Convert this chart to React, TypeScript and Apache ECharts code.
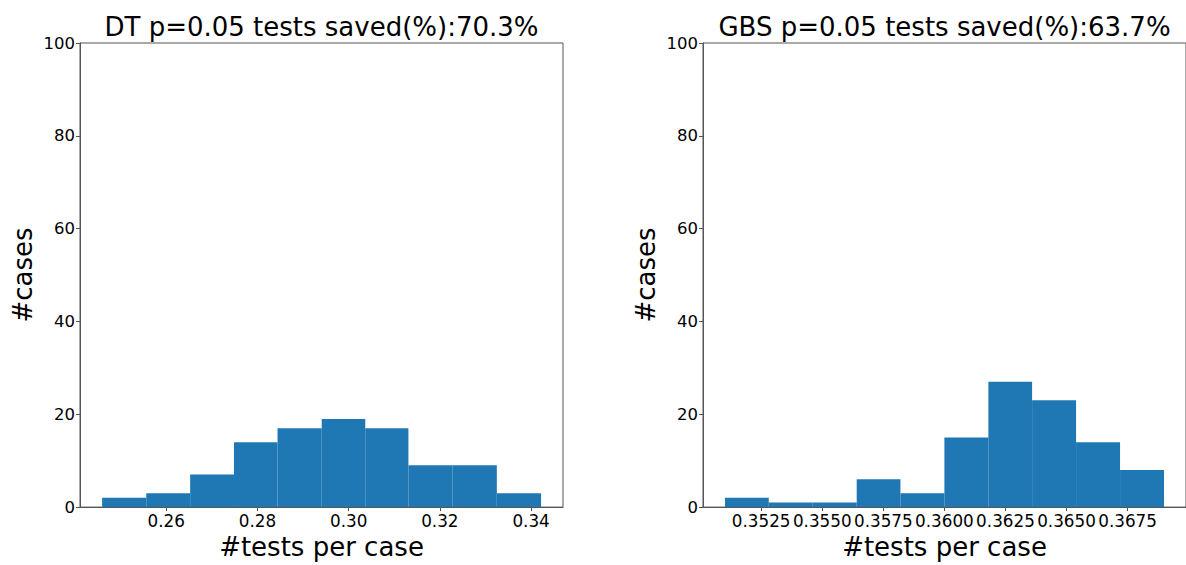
import React, { useEffect, useRef } from "react";
import * as echarts from "echarts";

// Left histogram (DT)
const dtTitle = "DT p=0.05 tests saved(%):70.3%";
const dtBinEdges = [0.24595, 0.25563, 0.26525, 0.27486, 0.28441, 0.2941, 0.30365, 0.31311, 0.32281, 0.33249, 0.34219];
const dtCounts = [2, 3, 7, 14, 17, 19, 17, 9, 9, 3];
const dtTicks = [0.26, 0.28, 0.3, 0.32, 0.34];
const dtRange = [0.2411, 0.347];

// Right histogram (GBS)
const gbsTitle = "GBS p=0.05 tests saved(%):63.7%";
const gbsBinEdges = [0.35102, 0.35281, 0.35461, 0.35641, 0.3582, 0.36, 0.3618, 0.36359, 0.36539, 0.36719, 0.36899];
const gbsCounts = [2, 1, 1, 6, 3, 15, 27, 23, 14, 8];
const gbsTicks = [0.3525, 0.355, 0.3575, 0.36, 0.3625, 0.365, 0.3675];
const gbsRange = [0.350118, 0.36989];

const yTicksMax = 100;
const yInterval = 20;

const FONT = "DejaVu Sans";
const BLUE = "#1f77b4";
const SPINE = "#555";

function toBins(edges: number[], counts: number[]) {
  return counts.map((c, i) => [edges[i], edges[i + 1], c]);
}

export default function App() {
  const ref = useRef<HTMLDivElement>(null);
  useEffect(() => {
    if (!ref.current) return;
    const chart = echarts.init(ref.current, undefined, { renderer: "svg" });
    const renderItem = (params: any, api: any) => {
      const p0 = api.coord([api.value(0), api.value(2)]);
      const p1 = api.coord([api.value(1), 0]);
      return {
        type: "rect",
        shape: { x: p0[0], y: p0[1], width: p1[0] - p0[0], height: p1[1] - p0[1] },
        style: { fill: BLUE },
      };
    };
    const xAxis = (range: number[], ticks: number[], digits: number, gi: number) => ({
      type: "value",
      gridIndex: gi,
      min: range[0],
      max: range[1],
      splitLine: { show: false },
      axisLine: { show: true, lineStyle: { color: SPINE, width: 1 } },
      axisTick: { show: true, length: 4, customValues: ticks, lineStyle: { color: SPINE } },
      axisLabel: {
        customValues: ticks,
        formatter: (v: number) => v.toFixed(digits),
        fontSize: 16.8,
        fontFamily: FONT,
        color: "#000",
        margin: 5,
        hideOverlap: false,
      },
      name: "#tests per case",
      nameLocation: "middle",
      nameGap: 21,
      nameTextStyle: { fontSize: 26, fontFamily: FONT, color: "#000" },
    });
    const yAxis = (gi: number) => ({
      type: "value",
      gridIndex: gi,
      min: 0,
      max: yTicksMax,
      interval: yInterval,
      splitLine: { show: false },
      axisLine: { show: true, lineStyle: { color: SPINE, width: 1 } },
      axisTick: { show: true, length: 4, lineStyle: { color: SPINE } },
      axisLabel: { fontSize: 16.5, fontFamily: FONT, color: "#000", margin: 5 },
      name: "#cases",
      nameLocation: "middle",
      nameRotate: 90,
      nameGap: 44,
      nameTextStyle: { fontSize: 26, fontFamily: FONT, color: "#000" },
    });
    chart.setOption({
      animation: false,
      backgroundColor: "#fff",
      textStyle: { fontFamily: FONT },
      title: [
        {
          text: dtTitle,
          left: 321.5,
          top: 14,
          textAlign: "center",
          padding: 0,
          textStyle: { fontSize: 26, fontWeight: "normal", fontFamily: FONT, color: "#000" },
        },
        {
          text: gbsTitle,
          left: 944.5,
          top: 14,
          textAlign: "center",
          padding: 0,
          textStyle: { fontSize: 26, fontWeight: "normal", fontFamily: FONT, color: "#000" },
        },
      ],
      grid: [
        { left: 80, right: 623, top: 43, bottom: 51, show: true, borderColor: SPINE, borderWidth: 1, backgroundColor: "transparent" },
        { left: 703, right: 0, top: 43, bottom: 51, show: true, borderColor: SPINE, borderWidth: 1, backgroundColor: "transparent" },
      ],
      xAxis: [xAxis(dtRange, dtTicks, 2, 0), xAxis(gbsRange, gbsTicks, 4, 1)],
      yAxis: [yAxis(0), yAxis(1)],
      series: [
        {
          type: "custom",
          xAxisIndex: 0,
          yAxisIndex: 0,
          renderItem,
          encode: { x: [0, 1], y: 2 },
          data: toBins(dtBinEdges, dtCounts),
        },
        {
          type: "custom",
          xAxisIndex: 1,
          yAxisIndex: 1,
          renderItem,
          encode: { x: [0, 1], y: 2 },
          data: toBins(gbsBinEdges, gbsCounts),
        },
      ],
    });
    return () => chart.dispose();
  }, []);
  return (
    <div
      ref={ref}
      style={{ position: "absolute", left: 0, top: 0, width: 1186, height: 565 }}
    />
  );
}
